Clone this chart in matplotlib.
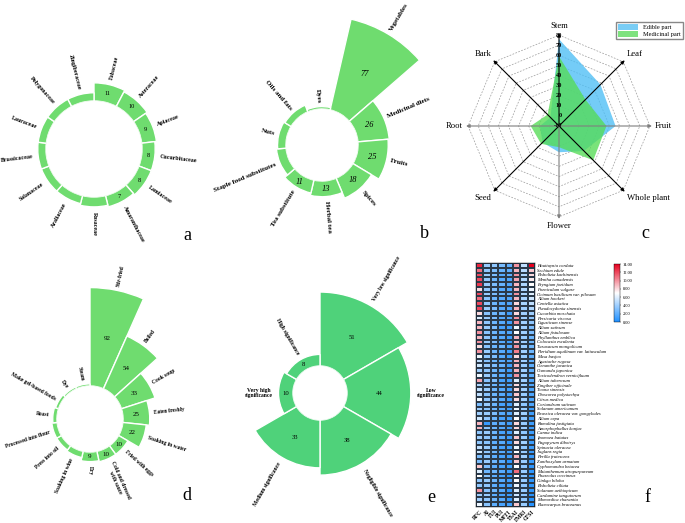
import numpy as np
import matplotlib
matplotlib.use("Agg")
import matplotlib.pyplot as plt
from matplotlib.patches import Patch
from matplotlib.colors import LinearSegmentedColormap

plt.rcParams['font.family'] = ['Liberation Serif', 'DejaVu Serif']

W, H = 685, 523

# a: families
family_names = ["Fabaceae", "Asteraceae", "Apiaceae", "Cucurbitaceae", "Lamiaceae",
                "Amaranthaceae", "Rosaceae", "Araliaceae", "Solanaceae", "Brassicaceae",
                "Lauraceae", "Polygonaceae", "Zingiberaceae"]
family_counts = [11, 10, 9, 8, 8, 7, 6, 5, 5, 5, 5, 5, 5]

# b: use categories
use_names = ["Vegetables", "Medicinal diets", "Fruits", "Spices", "Herbal tea",
             "Tea substitute", "Staple food substitutes", "Nuts", "Oils and fats", "Dyes"]
use_counts = [77, 26, 25, 18, 13, 11, 8, 7, 6, 2]

# c: parts used
part_names = ["Stem", "Leaf", "Fruit", "Whole plant", "Flower", "Seed", "Root", "Bark"]
edible_part = [76, 48, 46, 25, 16, 13, 9, 2]
medicinal_part = [59, 27, 37, 38, 11, 15, 18, 6]
radar_ticks = list(range(-10, 90, 10))

# d: preparation
method_names = ["Stir-fried", "Boiled", "Cook soup", "Eaten freshly", "Soaking in water",
                "Fried with eggs", "Cold and dressed\nwith sauce", "Dry", "Soaking in wine",
                "Press into oil", "Processed into flour", "Roast", "Make gel-based foods",
                "Dye", "Steam"]
method_counts = [92, 54, 33, 25, 22, 10, 10, 9, 6, 5, 5, 4, 3, 2, 2]

# e: significance
signif_names = ["Very low significance", "Low\nsignificance", "Negligible significance",
                "Medium significance", "Very high\nsignificance", "High significance"]
signif_counts = [51, 44, 38, 33, 10, 8]

# f: heatmap
species = ["Houttuynia cordata", "Sechium edule", "Elsholtzia kachinensis", "Mentha canadensis",
           "Eryngium foetidum", "Foeniculum vulgare", "Ocimum basilicum var. pilosum",
           "Allium hookeri", "Centella asiatica", "Pseudocydonia sinensis",
           "Cucurbita moschata", "Persicaria viscosa", "Ligusticum sinense", "Allium sativum",
           "Allium fistulosum", "Phyllanthus emblica", "Colocasia esculenta",
           "Taraxacum mongolicum", "Pteridium aquilinum var. latiusculum", "Musa basjoo",
           "Agastache rugosa", "Oenanthe javanica", "Osmunda japonica",
           "Toxicodendron vernicifluum", "Allium tuberosum", "Zingiber officinale",
           "Toona sinensis", "Dioscorea polystachya", "Citrus medica", "Coriandrum sativum",
           "Solanum americanum", "Brassica oleracea var. gongylodes", "Allium cepa",
           "Ramalina fastigiata", "Amorphophallus konjac", "Canna indica", "Ipomoea batatas",
           "Fagopyrum dibotrys", "Spinacia oleracea", "Juglans regia", "Perilla frutescens",
           "Zanthoxylum armatum", "Cyphomandra betacea", "Maianthemum atropurpureum",
           "Phaseolus coccineus", "Ginkgo biloba", "Elsholtzia ciliata", "Solanum aethiopicum",
           "Cardamine tangutorum", "Momordica charantia", "Elaeocarpus braceanus"]
indices = ["RFC", "AI", "FUI", "PUI", "MFFI", "TSAI", "FMRI", "CFSI"]
rfc = [13, 11, 12, 12, 12.5, 8, 12, 11, 12, 12,
       8, 6, 9, 9, 10, 9, 10, 8, 10, 6.5,
       5, 5.5, 4, 6.5, 9.5, 4.5, 5, 5, 6.5, 3,
       4, 4, 5.5, 9, 9, 3.5, 4, 3.5, 5, 5.5,
       3, 3, 8.5, 6, 7, 3.5, 3.5, 10, 4, 4,
       6.5]
ai = [3.8, 3.5, 3.8, 3.5, 3.8, 3.5, 3.8, 3.3, 3.5, 3.8,
      3.3, 3.8, 3.5, 3.8, 3.3, 3.5, 3.8, 3.3, 3.8, 3.5,
      3.3, 3.8, 3.5, 3.8, 3.3, 3.5, 3.8, 3.3, 3.5, 3.8,
      3.3, 3.8, 3.5, 0.8, 3.3, 3.8, 3.5, 3.3, 3.8, 3.5,
      3.3, 3.8, 3, 2.5, 3.3, 3.8, 3.5, 3.3, 3.8, 3.5,
      3.3]
fui = [3.5, 3, 3, 2.5, 3, 3, 3, 2.5, 2.5, 3,
       2.5, 3, 2.5, 3, 2.5, 2.5, 3, 2.5, 2.5, 3,
       2.5, 3, 2.5, 2.5, 3, 2.5, 2.5, 2.5, 3, 2.5,
       2.5, 3, 2.5, 2, 2.5, 2.5, 2.5, 2, 2.5, 2.5,
       2, 2.5, 2, 2.5, 2, 2.5, 2, 2.5, 2, 2.5,
       2]
pui = [2.8, 2.3, 1.8, 1.8, 2.3, 1.8, 2.3, 1.8, 1.8, 1.8,
       2.3, 1.8, 1.8, 1.3, 1.8, 1.8, 1.8, 2.3, 1.8, 1.8,
       1.8, 2.3, 1.8, 1.8, 1.3, 1.8, 1.8, 1.8, 1.8, 1.3,
       1.8, 1.8, 1.3, 1.8, 1.8, 1.3, 1.8, 1.8, 1.3, 1.8,
       1.3, 1.8, 1.3, 1.8, 1.3, 1.8, 1.3, 1.8, 1.3, 1.8,
       1.3]
mffi = [2, 2, 2, 1.5, 1.5, 1.5, 2, 1.5, 1.5, 1.5,
        1, 1.5, 1, 1, 1.5, 1, 1, 1.5, 1, 1,
        1.5, 1, 1, 1, 1, 1.5, 1, 1, 1, 1,
        1, 1.5, 1, 1, 1, 1, 1, 0.5, 1, 1,
        1, 0.5, 1, 1, 0.5, 1, 1, 0.5, 1, 0.5,
        1]
tsai = [10, 9, 10, 9.5, 9, 9, 10, 9, 8, 9,
        8, 10, 10, 6.5, 7, 9, 9, 10, 10.5, 8,
        9, 9, 9, 10, 6, 8, 8, 8.5, 8, 6,
        6.5, 6, 7, 8, 8, 6, 8.5, 8, 6.5, 7,
        9, 8.5, 7, 11, 7, 7, 6.5, 6, 5.5, 6,
        8.5]
fmri = [5, 4.8, 4.5, 4.5, 4.5, 4.5, 4.5, 4.3, 4.3, 4,
        4, 4, 4, 4, 4, 3.8, 4, 3.8, 4, 3.8,
        4, 3.8, 4, 3.8, 4, 3.8, 4, 3.8, 4, 3.5,
        3.8, 4, 3.5, 3.8, 4, 3.5, 3.8, 4, 3.5, 3.8,
        4, 3.8, 3.5, 3.8, 3.5, 3.8, 3.5, 3.8, 3.5, 3.5,
        3.8]
cfsi = [14, 8.5, 8, 7.5, 7, 6.5, 6, 5.5, 5, 4.5,
        4, 3.5, 3.5, 3, 3, 2.5, 2.5, 2.5, 2.5, 2,
        2, 2, 2, 2, 1.5, 1.5, 1.5, 1.5, 1.5, 1.5,
        1, 1, 1, 1, 1, 1, 1, 1, 1, 0.8,
        0.8, 0.8, 0.5, 0.5, 0.5, 0.5, 0.5, 0.5, 0.3, 0.3,
        0.3]

GREEN = "#6fdc6f"
GREEN_E = "#4fd27a"

fig = plt.figure(figsize=(W / 100, H / 100), dpi=100)


def rose(center, hole, scale, rmax, names, counts, color, start=0.0,
         name_size=4.3, num_size=4.5, num_min=0, num_style='normal', pad=5):
    cx, cy = center
    R = hole + rmax * scale
    ax = fig.add_axes([(cx - R) / W, 1 - (cy + R) / H, 2 * R / W, 2 * R / H],
                      projection='polar')
    ax.set_theta_zero_location('N')
    ax.set_theta_direction(-1)
    ax.set_ylim(0, rmax)
    ax.set_rorigin(-hole / scale)
    ax.axis('off')
    n = len(counts)
    step = 360.0 / n
    centers = start + step * (np.arange(n) + 0.5)
    ax.bar(np.radians(centers), counts, width=np.radians(step), bottom=0,
           color=color, edgecolor='white', linewidth=1.0)
    for th, v, name in zip(centers, counts, names):
        t = th % 360
        if t <= 180:
            rot, ha = 90 - t, 'left'
        else:
            rot, ha = 270 - t, 'right'
        ax.text(np.radians(th), v + pad / scale, name, rotation=rot,
                rotation_mode='anchor', ha=ha, va='center', fontsize=name_size,
                fontweight='bold', multialignment='center')
        if v >= num_min:
            ax.text(np.radians(th), v / 2, str(v), ha='center', va='center',
                    fontsize=num_size, style=num_style)
    return ax


rose((94, 149), 48, 1.65, 14, family_names, family_counts, GREEN,
     name_size=4.3, num_size=4.6, num_min=7)
rose((322, 145), 36, 1.21, 80, use_names, use_counts, GREEN, start=13,
     name_size=5.0, num_size=6.0, num_min=11, num_style='italic', pad=4)
rose((90, 419), 33, 1.07, 95, method_names, method_counts, GREEN,
     name_size=4.0, num_size=5.0, num_min=9, pad=4)
rose((320, 393), 27, 1.45, 54, signif_names, signif_counts, GREEN_E,
     name_size=4.1, num_size=4.8, num_min=0, pad=6)

# c: radar
axc = fig.add_axes([(559 - 101) / W, 1 - (126 + 101) / H, 202 / W, 202 / H])
axc.set_xlim(-100, 100)
axc.set_ylim(-100, 100)
axc.axis('off')
ang = np.radians(np.arange(len(part_names)) * 45.0)
ring_ang = np.append(ang, ang[0])
for lvl in radar_ticks[1:]:
    r = lvl + 10
    axc.plot(r * np.sin(ring_ang), r * np.cos(ring_ang), color='#9a9a9a', lw=0.5,
             linestyle=(0, (2.5, 2)), zorder=1)
for vals, colr in ((edible_part, '#4dbef5'), (medicinal_part, '#55dc55')):
    r = np.array(vals + vals[:1], dtype=float) + 10
    axc.fill(r * np.sin(ring_ang), r * np.cos(ring_ang), color=colr, alpha=0.78,
             zorder=2, lw=0)
tip = 92
for i, a in enumerate(ang):
    col = '#7f7f7f' if i in (2, 4, 6) else 'black'
    axc.annotate('', xy=(tip * np.sin(a), tip * np.cos(a)), xytext=(0, 0),
                 arrowprops=dict(arrowstyle='-|>', color=col, lw=0.8,
                                 mutation_scale=5, shrinkA=0, shrinkB=0),
                 zorder=3)
for v in radar_ticks:
    axc.text(3, v + 10, str(v), ha='right', va='center', fontsize=4.5,
             fontweight='bold', zorder=5)
for a, name in zip(ang, part_names):
    s, c = np.sin(a), np.cos(a)
    ha = 'center' if abs(s) < 0.1 else ('left' if s > 0 else 'right')
    va = 'center' if abs(c) < 0.1 else ('bottom' if c > 0 else 'top')
    axc.text((tip + 3) * s, (tip + 3) * c, name, ha=ha, va=va, fontsize=6.2)
axc.legend(handles=[Patch(facecolor='#79cdf5', edgecolor='none', label='Edible part'),
                    Patch(facecolor='#7fe27f', edgecolor='none', label='Medicinal part')],
           loc='upper right', bbox_to_anchor=(683 / W, 1 - 22 / H),
           bbox_transform=fig.transFigure, fontsize=4.6, frameon=True,
           fancybox=False, edgecolor='#888888', framealpha=1, borderpad=0.3,
           handlelength=3.2, handleheight=1.1, labelspacing=0.1, borderaxespad=0)

# f: heatmap
data = np.array([rfc, ai, fui, pui, mffi, tsai, fmri, cfsi]).T
cmap = LinearSegmentedColormap.from_list(
    'bluered', [(0, '#1e8fff'), (0.5, '#ffffff'), (1, '#e6001e')])
axf = fig.add_axes([476 / W, 1 - 507 / H, 59 / W, 244 / H])
mesh = axf.pcolormesh(data, cmap=cmap, vmin=0, vmax=14, edgecolors='#2b3a4a',
                      linewidth=0.3)
axf.set_ylim(len(species), 0)
axf.set_xticks(np.arange(len(indices)) + 0.5)
axf.set_xticklabels(indices, rotation=45, ha='right', rotation_mode='anchor',
                    fontsize=4, fontweight='bold')
axf.yaxis.tick_right()
axf.set_yticks(np.arange(len(species)) + 0.5)
axf.set_yticklabels(species, fontsize=3.3, style='italic')
axf.tick_params(length=0, pad=1.5)
for sp in axf.spines.values():
    sp.set_linewidth(0.3)
cax = fig.add_axes([614 / W, 1 - 322 / H, 6 / W, 58 / H])
cb = fig.colorbar(mesh, cax=cax, ticks=np.arange(0, 15, 2), format='%.2f')
cb.ax.tick_params(labelsize=3.2, length=1, width=0.3, pad=1)
cb.outline.set_linewidth(0.3)

for letter, (x, y) in zip("abcdef", [(187, 236), (424, 234), (645, 234),
                                     (187, 496), (431, 498), (647, 497)]):
    fig.text(x / W, 1 - y / H, letter, fontsize=13, ha='center', va='center')

fig.savefig("out.png", dpi=100)
